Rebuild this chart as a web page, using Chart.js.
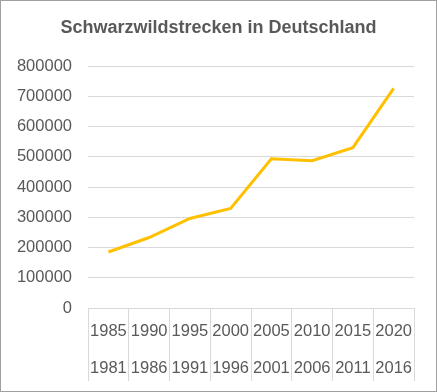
<!DOCTYPE html>
<html>
<head>
<meta charset="utf-8">
<script src="https://cdn.jsdelivr.net/npm/chart.js@4"></script>
<style>
  body { margin: 0; background: #fff; }
  #rahmen { width: 437px; height: 392px; box-sizing: border-box; border: 1px solid #a0a0a0; }
</style>
</head>
<body>
<div id="rahmen"><canvas id="grafico" width="435" height="390"></canvas></div>
<script>
// Daten
const jahreBis = ['1985', '1990', '1995', '2000', '2005', '2010', '2015', '2020'];
const jahreVon = ['1981', '1986', '1991', '1996', '2001', '2006', '2011', '2016'];
const strecke = [185000, 233000, 296000, 329000, 493000, 487000, 530000, 726000];

const grau = '#595959';
const linie = '#d9d9d9';
const schrift = 'Liberation Sans, Arial, sans-serif';

// Zweistufige Beschriftung: oben Endjahr, unten Anfangsjahr
const etiketten = jahreBis.map((j, i) => [j, jahreVon[i]]);

new Chart(document.getElementById('grafico').getContext('2d'), {
  type: 'line',
  data: {
    labels: etiketten,
    datasets: [{
      label: 'Schwarzwildstrecke',
      data: strecke,
      borderColor: '#FFC000',
      borderWidth: 3,
      pointRadius: 0,
      tension: 0,
      fill: false
    }]
  },
  options: {
    responsive: false,
    animation: false,
    layout: { padding: 0 },
    plugins: {
      legend: { display: false },
      tooltip: { enabled: false },
      title: {
        display: true,
        text: 'Schwarzwildstrecken in Deutschland',
        color: grau,
        font: { family: schrift, size: 18, weight: 'bold', lineHeight: 1.2 },
        padding: { top: 16, bottom: 27.4 }
      }
    },
    scales: {
      x: {
        type: 'category',
        offset: true,
        grid: {
          offset: true,
          drawOnChartArea: false,
          color: linie,
          tickLength: 73
        },
        border: { color: linie },
        ticks: {
          color: grau,
          maxRotation: 0,
          autoSkip: false,
          padding: -68,
          font: { family: schrift, size: 16.5, lineHeight: 2.24 }
        },
        afterFit: s => { s.height = 83; }
      },
      y: {
        min: 0,
        max: 800000,
        ticks: {
          stepSize: 100000,
          color: grau,
          padding: 16,
          font: { family: schrift, size: 16.5 },
          callback: v => String(v)
        },
        grid: { color: linie, drawTicks: false },
        border: { display: false },
        afterFit: s => { s.width = 87; }
      },
      rechts: {
        position: 'right',
        display: true,
        grid: { display: false },
        border: { display: false },
        ticks: { display: false },
        afterFit: s => { s.width = 22; }
      }
    }
  }
});
</script>
</body>
</html>
